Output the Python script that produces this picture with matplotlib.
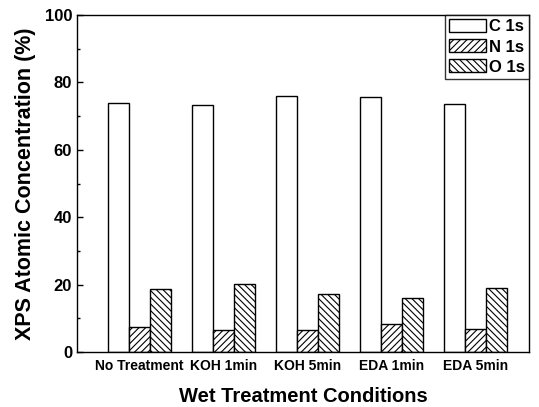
import matplotlib
matplotlib.use("Agg")
import matplotlib.pyplot as plt
import numpy as np
from matplotlib.ticker import MultipleLocator

plt.rcParams['font.family'] = ['Liberation Sans', 'DejaVu Sans']
plt.rcParams['font.weight'] = 'bold'
plt.rcParams['hatch.linewidth'] = 0.8

categories = ["No Treatment", "KOH 1min", "KOH 5min", "EDA 1min", "EDA 5min"]
c1s = [74.0, 73.2, 76.0, 75.6, 73.7]
n1s = [7.4, 6.6, 6.5, 8.3, 6.8]
o1s = [18.6, 20.2, 17.1, 15.9, 19.1]
series_names = ["C 1s", "N 1s", "O 1s"]

fig = plt.figure(figsize=(5.39, 4.07), dpi=100)
ax = fig.add_axes([77/539, 1-352/407, (529-77)/539, (352-15)/407])

x = np.arange(len(categories))
w = 0.25
ax.bar(x - w, c1s, w, facecolor='white', edgecolor='black', linewidth=1.0, label=series_names[0])
ax.bar(x, n1s, w, facecolor='white', edgecolor='black', linewidth=1.0, hatch='/////', label=series_names[1])
ax.bar(x + w, o1s, w, facecolor='white', edgecolor='black', linewidth=1.0, hatch='\\\\\\\\\\', label=series_names[2])

ax.set_xlim(-0.74, 4.64)
ax.set_ylim(0, 100)
ax.yaxis.set_major_locator(MultipleLocator(20))
ax.yaxis.set_minor_locator(MultipleLocator(10))
ax.tick_params(axis='y', which='both', direction='in', labelsize=12, width=1)
ax.tick_params(axis='y', which='major', length=4)
ax.tick_params(axis='y', which='minor', length=2)
ax.set_xticks(x)
ax.set_xticklabels(categories, fontsize=10, fontweight='bold')
ax.tick_params(axis='x', length=0, pad=5)
for s in ax.spines.values():
    s.set_linewidth(1.0)

ax.set_ylabel("XPS Atomic Concentration (%)", fontsize=15.5, fontweight='bold', labelpad=6)
ax.set_xlabel("Wet Treatment Conditions", fontsize=14.5, fontweight='bold', labelpad=10)

leg = ax.legend(loc='upper right', fontsize=12, frameon=True, fancybox=False,
                edgecolor='black', borderaxespad=0.0, handlelength=2.2, handleheight=0.8,
                handletextpad=0.2, labelspacing=0.3, borderpad=0.25)
leg.get_frame().set_linewidth(1.0)
for t in leg.get_texts():
    t.set_fontweight('bold')

fig.savefig("out.png", dpi=100)
